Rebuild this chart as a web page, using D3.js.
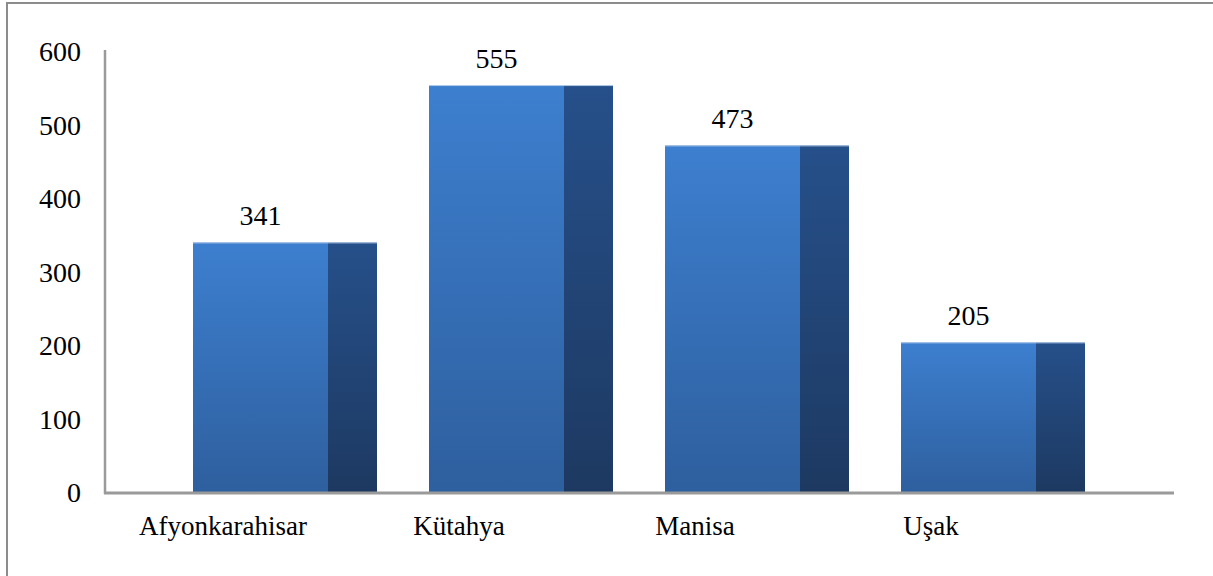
<!DOCTYPE html>
<html>
<head>
<meta charset="utf-8">
<script src="https://cdn.jsdelivr.net/npm/d3@7"></script>
<style>
  body { margin: 0; background: #fff; }
</style>
</head>
<body>
<div id="chart"></div>
<script>
// data
var cities = ["Afyonkarahisar", "Kütahya", "Manisa", "Uşak"];
var counts = [341, 555, 473, 205];
var yTicks = [0, 100, 200, 300, 400, 500, 600];

var W = 1213, H = 576;
var FONT = "'Liberation Serif', Tinos, 'Times New Roman', Times, 'DejaVu Serif', serif";
var svg = d3.select("#chart").append("svg")
  .attr("width", W).attr("height", H)
  .style("font-family", FONT);

// frame
svg.append("rect")
  .attr("x", 7).attr("y", 3)
  .attr("width", W + 10).attr("height", H + 10)
  .attr("fill", "none").attr("stroke", "#8c8c8c").attr("stroke-width", 2);

var x0 = 105, x1 = 1174, yBase = 493, yTop = 52;

var x = d3.scaleBand().domain(cities).range([x0, x0 + 944]);
var y = d3.scaleLinear().domain([0, 600]).range([yBase, yTop]);

// gradients
var defs = svg.append("defs");
var gFront = defs.append("linearGradient").attr("id", "front")
  .attr("x1", 0).attr("y1", 0).attr("x2", 0).attr("y2", 1);
gFront.append("stop").attr("offset", "0%").attr("stop-color", "#3d7fcf");
gFront.append("stop").attr("offset", "100%").attr("stop-color", "#2e5f9e");
var gSide = defs.append("linearGradient").attr("id", "side")
  .attr("x1", 0).attr("y1", 0).attr("x2", 0).attr("y2", 1);
gSide.append("stop").attr("offset", "0%").attr("stop-color", "#26508a");
gSide.append("stop").attr("offset", "100%").attr("stop-color", "#1d3961");

var frontOff = 88, frontW = 135, sideW = 49;

var bars = svg.selectAll("g.bar")
  .data(cities.map(function (c, i) { return { city: c, val: counts[i] }; }))
  .enter().append("g").attr("class", "bar");

bars.append("rect")
  .attr("x", function (d) { return x(d.city) + frontOff; })
  .attr("y", function (d) { return y(d.val); })
  .attr("width", frontW)
  .attr("height", function (d) { return yBase - y(d.val); })
  .attr("fill", "url(#front)");

bars.append("rect")
  .attr("x", function (d) { return x(d.city) + frontOff + frontW; })
  .attr("y", function (d) { return y(d.val); })
  .attr("width", sideW)
  .attr("height", function (d) { return yBase - y(d.val); })
  .attr("fill", "url(#side)");

// light top edge
bars.append("line")
  .attr("x1", function (d) { return x(d.city) + frontOff; })
  .attr("x2", function (d) { return x(d.city) + frontOff + frontW + sideW; })
  .attr("y1", function (d) { return y(d.val) + 0.5; })
  .attr("y2", function (d) { return y(d.val) + 0.5; })
  .attr("stroke", "#b4cbea").attr("stroke-width", 1);

// value labels
bars.append("text")
  .attr("x", function (d) { return x(d.city) + frontOff + frontW / 2; })
  .attr("y", function (d) { return y(d.val) - 17; })
  .attr("text-anchor", "middle")
  .attr("font-family", FONT)
  .attr("font-size", 28)
  .text(function (d) { return d.val; });

// axes lines
svg.append("line")
  .attr("x1", x0).attr("x2", x0).attr("y1", yTop - 2).attr("y2", yBase + 1)
  .attr("stroke", "#9a9a9a").attr("stroke-width", 2.5);
svg.append("line")
  .attr("x1", x0 - 1).attr("x2", x1).attr("y1", yBase).attr("y2", yBase)
  .attr("stroke", "#9a9a9a").attr("stroke-width", 3);

// y tick labels
svg.selectAll("text.ytick").data(yTicks).enter().append("text")
  .attr("class", "ytick")
  .attr("x", 81)
  .attr("y", function (d) { return y(d) + 9; })
  .attr("text-anchor", "end")
  .attr("font-family", FONT)
  .attr("font-size", 28)
  .text(function (d) { return d; });

// category labels
svg.selectAll("text.xtick").data(cities).enter().append("text")
  .attr("class", "xtick")
  .attr("x", function (d) { return x(d) + x.bandwidth() / 2; })
  .attr("y", 535)
  .attr("text-anchor", "middle")
  .attr("font-family", FONT)
  .attr("font-size", 27)
  .text(function (d) { return d; });
</script>
</body>
</html>
